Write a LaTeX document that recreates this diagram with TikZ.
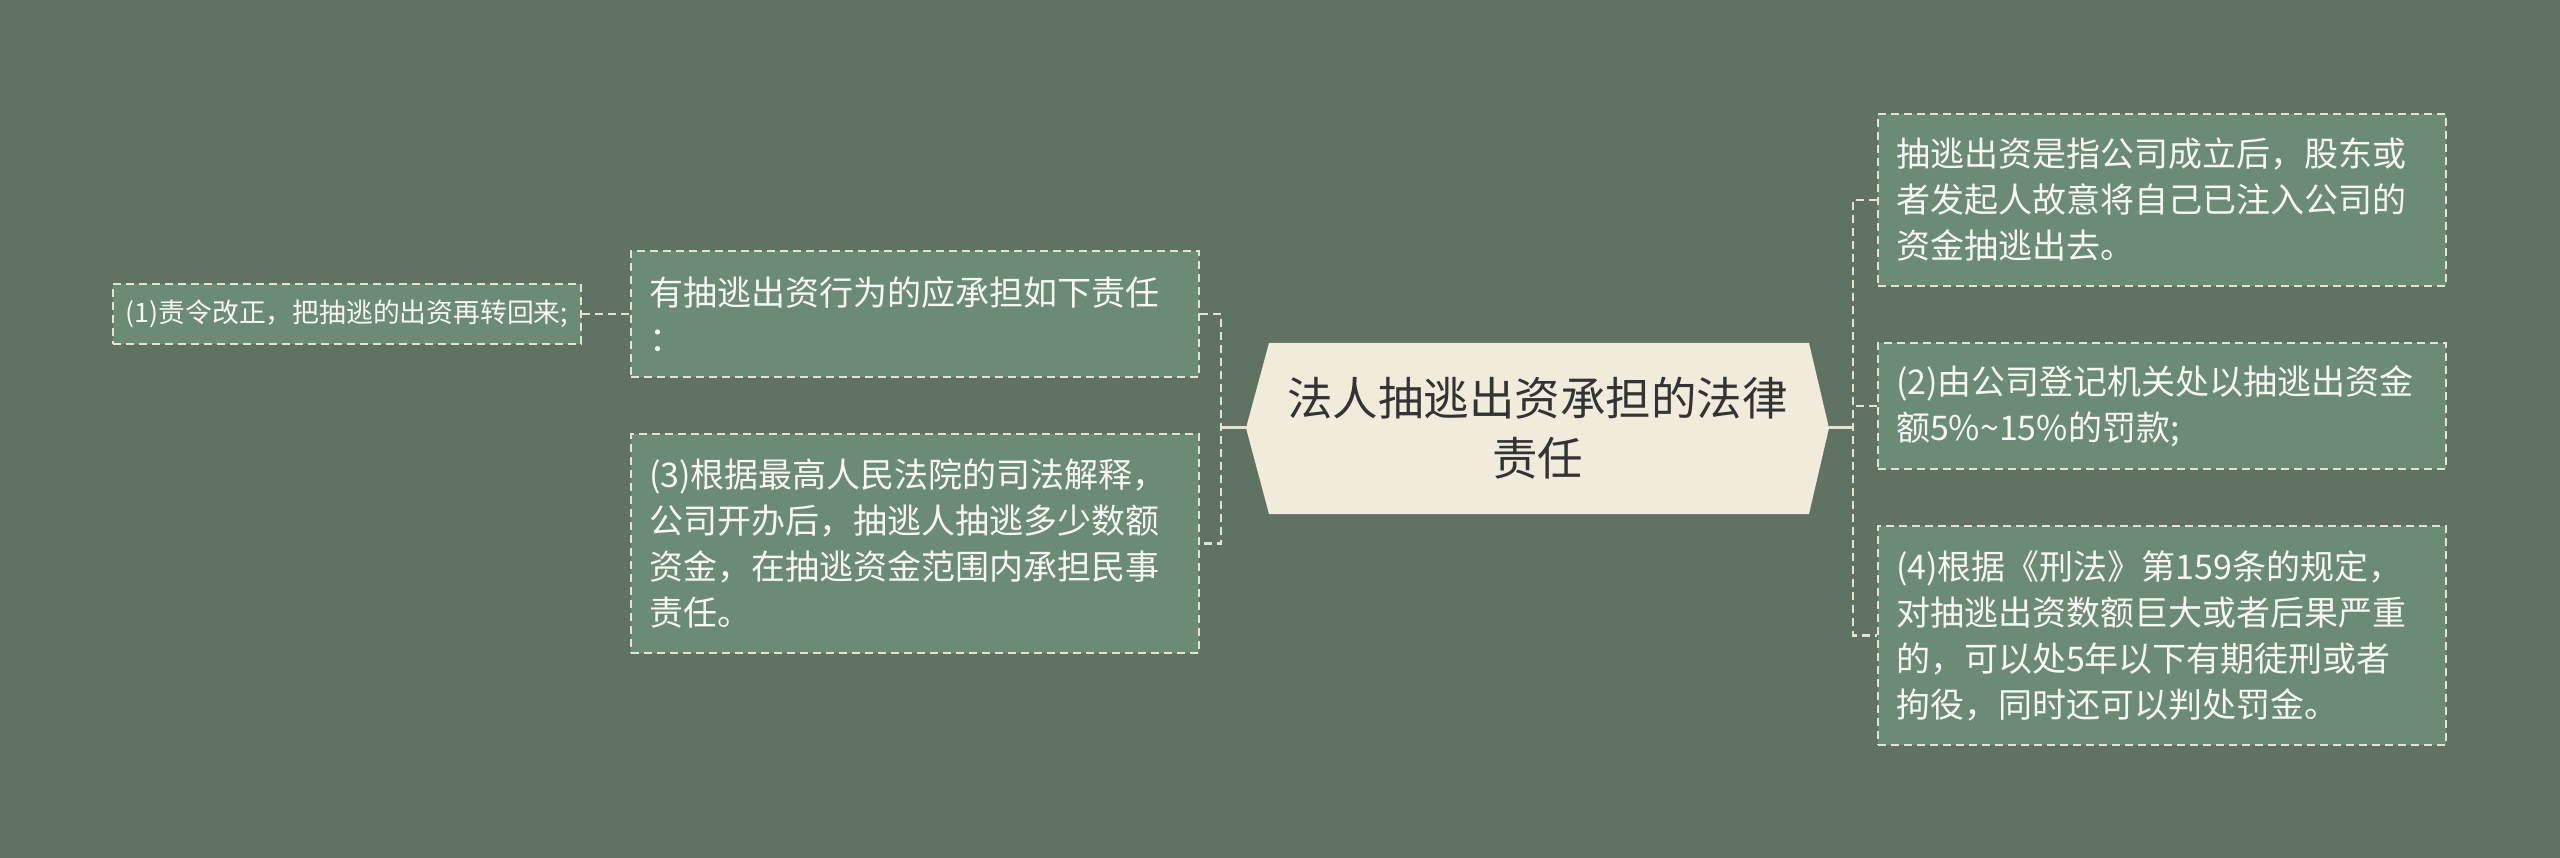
\documentclass[tikz,border=0pt]{standalone}
\usepackage{fontspec}
\setmainfont{Noto Sans CJK SC}
\definecolor{bg}{HTML}{607262}
\definecolor{boxfill}{HTML}{6C8B74}
\definecolor{cream}{HTML}{F0EBDA}
\definecolor{linecol}{HTML}{E6E2D0}
\definecolor{txt}{HTML}{F7F7F2}
\definecolor{dark}{HTML}{333333}
\begin{document}
\begin{tikzpicture}[x=1pt,y=-1pt,
  leaf/.style={draw=linecol, line width=2pt, dash pattern=on 8pt off 5pt, fill=boxfill,
    text=txt, align=left, inner xsep=18pt, inner ysep=4pt, text width=532pt,
    font=\fontsize{34}{46}\selectfont},
  small/.style={draw=linecol, line width=2pt, dash pattern=on 8pt off 5pt, fill=boxfill,
    text=txt, align=left, inner xsep=8pt, inner ysep=4pt,
    minimum width=468pt, minimum height=60pt, font=\fontsize{26.8}{32}\selectfont},
  conn/.style={draw=linecol, line width=2.2pt, dash pattern=on 8pt off 5pt},
  solidconn/.style={draw=linecol, line width=3pt}
]
\useasboundingbox (0,0) rectangle (2560,858);
\fill[bg] (0,0) rectangle (2560,858);

% center hexagon
\fill[cream] (1246,428) -- (1269,343) -- (1809,343) -- (1829,428) -- (1809,514) -- (1269,514) -- cycle;
\node[text=dark, align=center, font=\fontsize{45.5}{60}\selectfont] (c) at (1537.5,428) {法人抽逃出资承担的法律\\责任};
\coordinate (cl) at (1246,428);
\coordinate (cr) at (1829,428);

% left boxes
\node[leaf, minimum height=126pt] (A) at (915,314) {有抽逃出资行为的应承担如下责任\\：};
\node[leaf, minimum height=219pt] (B) at (915,543.5) {(3)根据最高人民法院的司法解释，\\公司开办后，抽逃人抽逃多少数额\\资金，在抽逃资金范围内承担民事\\责任。};
\node[small] (C) at (347,314) {(1)责令改正，把抽逃的出资再转回来;};

% right boxes
\node[leaf, minimum height=172pt] (D) at (2162,200) {抽逃出资是指公司成立后，股东或\\者发起人故意将自己已注入公司的\\资金抽逃出去。};
\node[leaf, minimum height=126pt] (E) at (2162,406) {(2)由公司登记机关处以抽逃出资金\\额5\%\textasciitilde15\%的罚款;};
\node[leaf, minimum height=219pt] (F) at (2162,635.5) {(4)根据《刑法》第159条的规定，\\对抽逃出资数额巨大或者后果严重\\的，可以处5年以下有期徒刑或者\\拘役，同时还可以判处罚金。};

% connectors left
\coordinate (lb) at (1221,428);
\draw[solidconn] (cl) -- (lb);
\draw[conn] (A.east) -- (A.east -| lb) -- (B.east -| lb) -- (B.east);
\draw[conn] (C.east) -- (A.west);

% connectors right
\coordinate (rb) at (1853,428);
\draw[solidconn] (cr) -- (rb);
\draw[conn] (D.west) -- (D.west -| rb) -- (F.west -| rb) -- (F.west);
\draw[conn] (E.west) -- (E.west -| rb);
\end{tikzpicture}
\end{document}
